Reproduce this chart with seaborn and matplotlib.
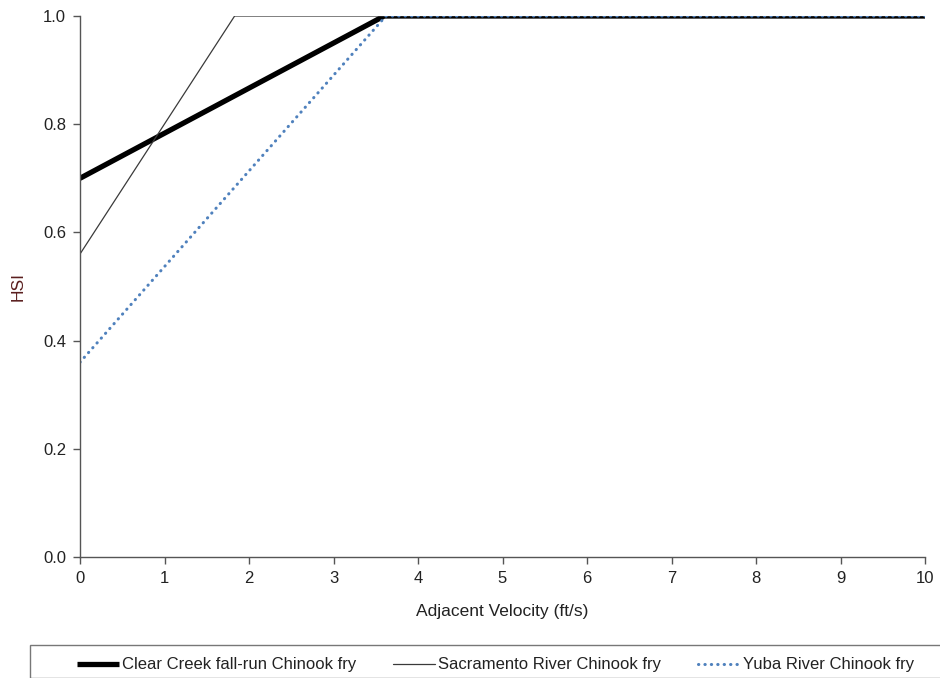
import matplotlib
matplotlib.use("Agg")
import matplotlib.pyplot as plt
from matplotlib.patches import Rectangle
from matplotlib.lines import Line2D
import pandas as pd
import seaborn as sns

# Habitat suitability curves for adjacent velocity
velocity_clear = [0.0, 3.6, 10.0]
hsi_clear = [0.70, 1.0, 1.0]

velocity_sac = [0.0, 1.83, 10.0]
hsi_sac = [0.56, 1.0, 1.0]

velocity_yuba = [0.0, 3.62, 10.0]
hsi_yuba = [0.36, 1.0, 1.0]

series_names = ["Clear Creek fall-run Chinook fry",
                "Sacramento River Chinook fry",
                "Yuba River Chinook fry"]

x_ticks = [0, 1, 2, 3, 4, 5, 6, 7, 8, 9, 10]
y_ticks = [0.0, 0.2, 0.4, 0.6, 0.8, 1.0]

sns.set_theme(style="ticks")
plt.rcParams["font.family"] = ["Liberation Sans", "DejaVu Sans"]

fig = plt.figure(figsize=(9.4, 6.78), dpi=100)
ax = fig.add_axes([80 / 940, 1 - 557 / 678, 845 / 940, 541 / 678])

styles = [
    dict(color="black", linewidth=3.8, linestyle="-", solid_capstyle="butt"),
    dict(color="#3a3a3a", linewidth=0.9, linestyle="-"),
    dict(color="#4f81bd", linewidth=2.2, linestyle=(0, (0.1, 2.0)), dash_capstyle="round"),
]

frames = [
    pd.DataFrame({"v": velocity_clear, "hsi": hsi_clear}),
    pd.DataFrame({"v": velocity_sac, "hsi": hsi_sac}),
    pd.DataFrame({"v": velocity_yuba, "hsi": hsi_yuba}),
]

for df, st in zip(frames, styles):
    sns.lineplot(data=df, x="v", y="hsi", ax=ax, sort=False, estimator=None, **st)

ax.set_xlim(0, 10)
ax.set_ylim(0, 1)
ax.set_xticks(x_ticks)
ax.set_xticklabels([str(t) for t in x_ticks])
ax.set_yticks(y_ticks)
ax.set_yticklabels([f"{t:.1f}" for t in y_ticks])

for side in ("top", "right"):
    ax.spines[side].set_visible(False)
for side in ("left", "bottom"):
    ax.spines[side].set_color("#555555")
    ax.spines[side].set_linewidth(1.0)

ax.tick_params(axis="both", direction="out", length=5, width=1.0,
               color="#555555", labelsize=12, labelcolor="#222222", pad=5)
ax.set_xlabel("Adjacent Velocity (ft/s)", fontsize=12.5, color="#222222", labelpad=13)
ax.set_ylabel("HSI", fontsize=12.5, color="#5a1e1e")
ax.yaxis.set_label_coords(-54 / 845, 0.5)

# Legend strip along the bottom
fig.patches.append(Rectangle((30 / 940, 0.0), 0.99, 1 - 645 / 678,
                             transform=fig.transFigure, fill=False,
                             edgecolor="#777777", linewidth=1.0))
handles = [Line2D([], [], **st) for st in styles]
fig.legend(handles, series_names, loc="upper left",
           bbox_to_anchor=(69 / 940, 1 - 649 / 678), ncol=3, frameon=False,
           fontsize=12, handlelength=2.5, handletextpad=0.2,
           columnspacing=2.2, borderpad=0, labelcolor="#222222")

fig.savefig("out.png", dpi=100)
